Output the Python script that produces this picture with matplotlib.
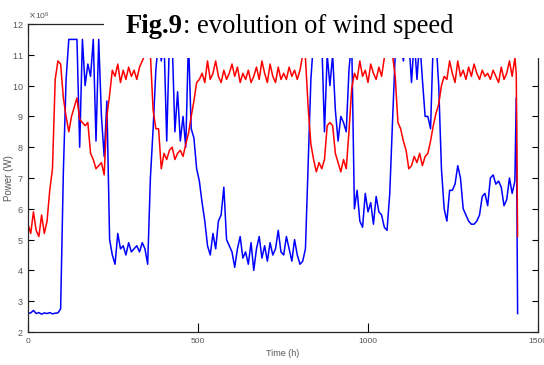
import numpy as np
import matplotlib
matplotlib.use("Agg")
import matplotlib.pyplot as plt
from matplotlib.patches import Rectangle
from matplotlib.ticker import ScalarFormatter

# hours sampled every 8 h, plus the final drop at the end of the record
hours = list(range(0, 1433, 8)) + [1436, 1440]

# wind turbine power, units of 1e6 W
blue_mw = [
    2.61, 2.62, 2.70, 2.60, 2.63, 2.58, 2.62, 2.60, 2.63, 2.59,
    2.61, 2.62, 2.75, 7.2, 10.2, 11.5, 11.5, 11.5, 11.5, 8.0,
    11.5, 10.0, 10.7, 10.3, 11.5, 8.2, 11.5, 9.0, 7.7, 9.5,
    5.0, 4.5, 4.2, 5.2, 4.7, 4.8, 4.5, 4.9, 4.6, 4.7,
    4.8, 4.6, 4.9, 4.7, 4.2, 7.0, 8.6, 10.5, 11.5, 10.8,
    11.5, 8.2, 11.5, 11.5, 8.5, 9.8, 8.2, 9.0, 8.0, 11.5,
    8.6, 8.3, 7.3, 6.9, 6.2, 5.6, 4.8, 4.5, 5.2, 4.7,
    5.6, 5.8, 6.7, 5.0, 4.8, 4.6, 4.1, 4.7, 5.1, 4.4,
    4.6, 4.2, 4.9, 4.0, 4.7, 5.1, 4.4, 4.8, 4.3, 4.9,
    4.5, 4.7, 5.3, 4.6, 4.5, 5.1, 4.7, 4.3, 5.0, 4.5,
    4.2, 4.3, 4.7, 7.5, 10.2, 11.5, 11.5, 11.5, 11.5, 8.5,
    11.0, 10.0, 11.0, 9.2, 8.2, 9.0, 8.8, 8.5, 10.5, 11.5,
    6.0, 6.6, 5.6, 5.4, 6.5, 5.9, 6.2, 5.5, 6.4, 5.9,
    5.8, 5.4, 5.3, 6.5, 8.8, 11.0, 11.5, 11.5, 10.8, 11.5,
    11.5, 10.1, 11.5, 10.2, 11.5, 10.2, 9.0, 9.0, 8.6, 11.5,
    11.5, 10.0, 7.3, 6.0, 5.6, 6.6, 6.6, 6.8, 7.4, 7.0,
    6.0, 5.8, 5.6, 5.5, 5.5, 5.6, 5.8, 6.4, 6.5, 6.1,
    7.0, 7.1, 6.8, 6.9, 6.7, 6.1, 6.3, 7.0, 6.5, 6.9,
    9.6, 2.6,
]

red_mw = [
    5.5, 5.2, 5.9, 5.3, 5.1, 5.8, 5.2, 5.6, 6.6, 7.3,
    10.2, 10.8, 10.7, 9.6, 9.0, 8.5, 9.0, 9.3, 9.6, 8.9,
    8.8, 8.7, 8.8, 7.8, 7.6, 7.3, 7.4, 7.5, 7.1, 9.0,
    9.7, 10.5, 10.3, 10.7, 10.1, 10.5, 10.2, 10.6, 10.3, 10.5,
    10.2, 10.6, 10.8, 11.0, 11.0, 11.0, 9.2, 8.6, 8.6, 7.3,
    7.8, 7.6, 7.9, 8.0, 7.6, 7.8, 7.9, 7.7, 8.1, 8.45,
    9.0, 9.5, 10.1, 10.2, 10.4, 10.1, 10.8, 10.2, 10.4, 10.8,
    10.3, 10.1, 10.5, 10.2, 10.4, 10.7, 10.3, 10.6, 10.1, 10.4,
    10.2, 10.5, 10.1, 10.3, 10.6, 10.2, 10.8, 10.4, 10.1, 10.7,
    10.3, 10.1, 10.6, 10.2, 10.4, 10.2, 10.6, 10.3, 10.5, 10.2,
    10.5, 11.0, 10.9, 9.3, 8.1, 7.6, 7.2, 7.5, 7.3, 7.6,
    8.7, 8.8, 8.7, 7.8, 7.5, 7.2, 7.6, 7.3, 8.5, 9.9,
    10.4, 10.2, 10.8, 10.3, 10.5, 10.1, 10.7, 10.4, 10.2, 10.6,
    10.3, 10.9, 11.0, 11.0, 11.0, 10.3, 8.8, 8.6, 8.2, 7.9,
    7.3, 7.4, 7.7, 7.5, 7.8, 7.4, 7.7, 7.8, 8.2, 8.7,
    9.1, 9.4, 10.0, 10.3, 10.2, 10.8, 10.4, 10.1, 10.8, 10.3,
    10.5, 10.2, 10.6, 10.3, 10.7, 10.4, 10.2, 10.5, 10.3, 10.4,
    10.2, 10.5, 10.3, 10.1, 10.6, 10.2, 10.4, 10.8, 10.3, 10.9,
    10.4, 5.1,
]

x_ticks = [0, 500, 1000, 1500]
y_ticks = [2, 3, 4, 5, 6, 7, 8, 9, 10, 11, 12]
title_bold = "Fig.9"
title_rest = ": evolution of wind speed"

tick_font = ["Liberation Sans Narrow", "Liberation Sans", "DejaVu Sans"]
grey = "#555555"

fig = plt.figure(figsize=(5.44, 3.65), dpi=100)
ax = fig.add_axes([28 / 544, 33 / 365, 510 / 544, 308 / 365])

t = np.array(hours)
ax.plot(t, np.array(blue_mw) * 1e6, color="#0000ff", lw=1.1)
ax.plot(t, np.array(red_mw) * 1e6, color="#ff0000", lw=1.1)

ax.set_xlim(0, 1500)
ax.set_ylim(2e6, 12e6)
ax.set_xticks(x_ticks)
ax.set_yticks([v * 1e6 for v in y_ticks])

fmt = ScalarFormatter(useMathText=True)
fmt.set_powerlimits((6, 6))
ax.yaxis.set_major_formatter(fmt)
off = ax.yaxis.get_offset_text()
off.set_fontsize(6)
off.set_color(grey)
off.set_family(tick_font)

for s in ax.spines.values():
    s.set_color("#262626")
    s.set_linewidth(0.9)

ax.tick_params(axis="x", direction="in", length=6.5, width=0.8, top=True,
               labelsize=6, labelcolor=grey, pad=4)
ax.tick_params(axis="y", direction="in", length=4, width=0.8, right=True,
               labelsize=6.5, labelcolor=grey, pad=3)
for lab in ax.get_xticklabels() + ax.get_yticklabels():
    lab.set_family(tick_font)

ax.set_xlabel("Time (h)", fontsize=6.5, color=grey, family=tick_font, labelpad=3)
ax.set_ylabel("Power (W)", fontsize=7, color=grey, family=tick_font)
ax.yaxis.set_label_coords(-0.027, 0.5)

# white title panel pasted over the top of the plot
fig.patches.append(Rectangle((104 / 544, 1 - 58 / 365), 1, 58 / 365,
                             transform=fig.transFigure, facecolor="white",
                             edgecolor="none", zorder=5))
t1 = fig.text(126 / 544, 1 - 33 / 365, title_bold, fontsize=19.2,
              fontweight="bold", family="Liberation Serif", zorder=6)
fig.canvas.draw()
bb = t1.get_window_extent(fig.canvas.get_renderer())
fig.text(bb.x1 / 544, 1 - 33 / 365, title_rest, fontsize=19.2,
         family="Liberation Serif", zorder=6)

fig.savefig("out.png", dpi=100)
